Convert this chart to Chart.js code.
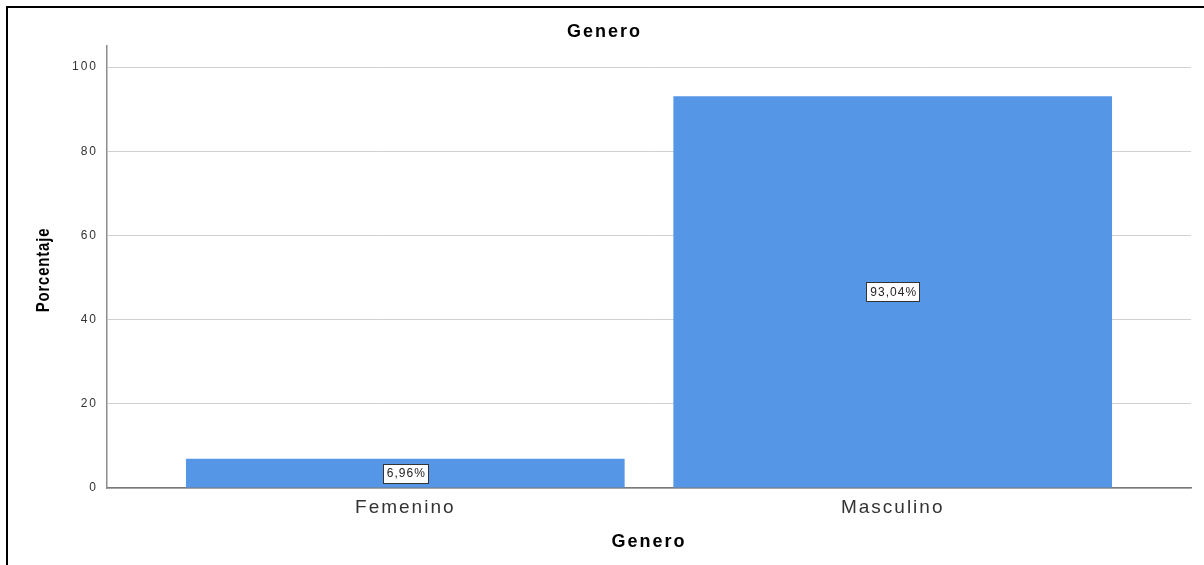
<!DOCTYPE html>
<html>
<head>
<meta charset="utf-8">
<title>Genero</title>
<script src="https://cdn.jsdelivr.net/npm/chart.js@4"></script>
<style>
  html, body { margin: 0; padding: 0; background: #fff; }
  #wrap { position: relative; width: 1204px; height: 565px; overflow: hidden; }
  #frame {
    position: absolute; left: 6px; top: 6px; width: 1300px; height: 700px;
    border-left: 2px solid #000; border-top: 2px solid #000;
  }
  #chart { position: absolute; left: 0; top: 0; }
</style>
</head>
<body>
<div id="wrap">
  <div id="frame"></div>
  <canvas id="chart" width="1204" height="565"></canvas>
</div>
<script>
const categorias = ['Femenino', 'Masculino'];
const porcentajes = [6.96, 93.04];
const yTicks = [0, 20, 40, 60, 80, 100];
const tituloY = 'Porcentaje';

const FONT = "'Liberation Sans', Arial, sans-serif";

// SPSS-style spaced lettering for every text on the canvas
const espaciado = {
  id: 'espaciado',
  beforeDraw(chart) {
    chart.ctx.letterSpacing = '2px';
  }
};

// narrow bold y-axis title (Arial Narrow look: Arial squeezed horizontally)
const tituloNarrow = {
  id: 'tituloNarrow',
  afterDraw(chart) {
    const ctx = chart.ctx;
    const area = chart.chartArea;
    ctx.save();
    ctx.letterSpacing = '1px';
    ctx.translate(44, (area.top + area.bottom) / 2 + 3);
    ctx.rotate(-Math.PI / 2);
    ctx.scale(0.83, 1);
    ctx.font = 'bold 18px ' + FONT;
    ctx.fillStyle = '#000';
    ctx.textAlign = 'center';
    ctx.textBaseline = 'middle';
    ctx.fillText(tituloY, 0, 0);
    ctx.restore();
  }
};

// white boxed value labels in the middle of each bar
const etiquetas = {
  id: 'etiquetas',
  afterDatasetsDraw(chart) {
    const ctx = chart.ctx;
    const meta = chart.getDatasetMeta(0);
    ctx.save();
    ctx.letterSpacing = '1px';
    ctx.font = '12px ' + FONT;
    ctx.textAlign = 'center';
    ctx.textBaseline = 'middle';
    meta.data.forEach((bar, i) => {
      const txt = porcentajes[i].toFixed(2).replace('.', ',') + '%';
      const cx = bar.x;
      const cy = (bar.y + bar.base) / 2;
      const w = ctx.measureText(txt).width + 6;
      const h = 19;
      ctx.fillStyle = '#fff';
      ctx.fillRect(Math.round(cx - w / 2) + 0.5, Math.round(cy - h / 2) + 0.5, Math.round(w), h);
      ctx.strokeStyle = '#333';
      ctx.lineWidth = 1;
      ctx.strokeRect(Math.round(cx - w / 2) + 0.5, Math.round(cy - h / 2) + 0.5, Math.round(w), h);
      ctx.fillStyle = '#222';
      ctx.fillText(txt, cx + 1, cy + 1);
    });
    ctx.restore();
  }
};

new Chart(document.getElementById('chart'), {
  type: 'bar',
  data: {
    datasets: [{
      data: porcentajes.map((v, i) => ({ x: i + 1, y: v })),
      backgroundColor: '#5596e6',
      borderWidth: 0,
      barPercentage: 0.9,
      categoryPercentage: 1
    }]
  },
  options: {
    responsive: false,
    animation: false,
    layout: { padding: { left: 18, right: 13, top: 0, bottom: 0 } },
    plugins: {
      legend: { display: false },
      tooltip: { enabled: false },
      title: {
        display: true,
        text: 'Genero',
        color: '#000',
        font: { family: FONT, size: 18, weight: 'bold', lineHeight: 1.2 },
        padding: { top: 21, bottom: 3.4 }
      }
    },
    scales: {
      x: {
        type: 'linear',
        offset: false,
        min: 0.388,
        max: 2.612,
        afterBuildTicks: scale => {
          scale.ticks = categorias.map((c, i) => ({ value: i + 1 }));
        },
        afterFit: scale => { scale.height = 77; },
        grid: { display: false, drawTicks: false, offset: false },
        border: { display: true, color: '#7a7a7a', width: 1.5 },
        ticks: {
          autoSkip: false,
          maxRotation: 0,
          padding: 8,
          color: '#333',
          font: { family: FONT, size: 19 },
          callback: v => categorias[v - 1]
        },
        title: {
          display: true,
          text: 'Genero',
          color: '#000',
          font: { family: FONT, size: 18, weight: 'bold', lineHeight: 1.2 },
          padding: { top: 0, bottom: 12 }
        }
      },
      y: {
        min: 0,
        max: 105,
        afterBuildTicks: scale => {
          scale.ticks = yTicks.map(v => ({ value: v }));
        },
        afterFit: scale => { scale.width = 89; },
        grid: { color: '#d0d0d0', lineWidth: 1, drawTicks: false },
        border: { display: true, color: '#8c8c8c', width: 1.5 },
        ticks: {
          padding: 9,
          color: '#333',
          font: { family: FONT, size: 12 }
        },
        title: { display: false }
      }
    }
  },
  plugins: [espaciado, etiquetas, tituloNarrow]
});
</script>
</body>
</html>
